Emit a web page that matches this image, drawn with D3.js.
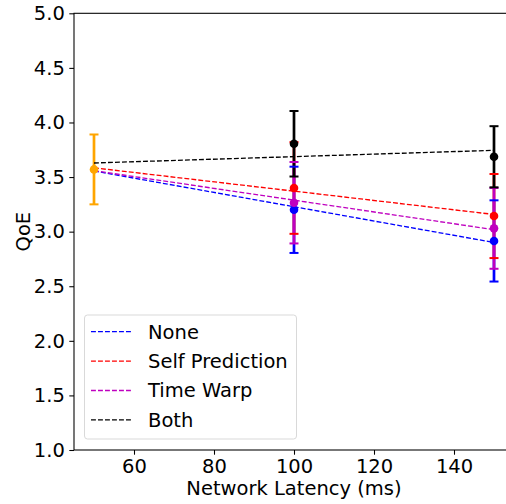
<!DOCTYPE html>
<html>
<head>
<meta charset="utf-8">
<script src="https://cdn.jsdelivr.net/npm/d3@7"></script>
<style>
  body { margin: 0; background: #fff; }
  svg text { font-family: "DejaVu Sans", sans-serif; fill: #000; }
</style>
</head>
<body>
<div id="chart"></div>
<script>
// latency values (ms)
var latencies = [100, 150];
var baseLatency = 50;
var baseMean = 3.57, baseErr = 0.32;

var seriesNames = ["None", "Self Prediction", "Time Warp", "Both"];
var seriesColors = ["#0000ff", "#ff0000", "#bf00bf", "#000000"];
var noneMean = [3.20, 2.915], noneErr = [0.395, 0.372];
var selfMean = [3.40, 3.143], selfErr = [0.42, 0.385];
var warpMean = [3.265, 3.03], warpErr = [0.373, 0.37];
var bothMean = [3.805, 3.686], bothErr = [0.30, 0.28];

var xTicks = [60, 80, 100, 120, 140];
var yTicks = [1.0, 1.5, 2.0, 2.5, 3.0, 3.5, 4.0, 4.5, 5.0];

var series = [
  {name: seriesNames[0], color: seriesColors[0], mean: noneMean, err: noneErr},
  {name: seriesNames[1], color: seriesColors[1], mean: selfMean, err: selfErr},
  {name: seriesNames[2], color: seriesColors[2], mean: warpMean, err: warpErr},
  {name: seriesNames[3], color: seriesColors[3], mean: bothMean, err: bothErr}
];

var W = 506, H = 504;
var margin = {top: 13.3, left: 74},
    width = 440,
    height = 436.7;

var svg = d3.select("#chart").append("svg")
    .attr("width", W)
    .attr("height", H);

var g = svg.append("g")
    .attr("transform", "translate(" + margin.left + "," + margin.top + ")");

var x = d3.scaleLinear().domain([45, 155]).range([0, width]);
var y = d3.scaleLinear().domain([1.0, 5.0]).range([height, 0]);

var fontSize = 19.5;

// least squares fit through baseline + series points
function fit(s) {
  var xs = [baseLatency].concat(latencies);
  var ys = [baseMean].concat(s.mean);
  var mx = d3.mean(xs), my = d3.mean(ys);
  var num = 0, den = 0;
  xs.forEach(function(v, i) { num += (v - mx) * (ys[i] - my); den += (v - mx) * (v - mx); });
  var b = num / den, a = my - b * mx;
  return [[xs[0], a + b * xs[0]], [xs[xs.length - 1], a + b * xs[xs.length - 1]]];
}

// error bar vertical lines first (drawn below everything)
series.forEach(function(s) {
  g.selectAll(null).data(latencies).enter().append("line")
    .attr("x1", function(d) { return x(d); })
    .attr("x2", function(d) { return x(d); })
    .attr("y1", function(d, i) { return y(s.mean[i] - s.err[i]); })
    .attr("y2", function(d, i) { return y(s.mean[i] + s.err[i]); })
    .attr("stroke", s.color)
    .attr("stroke-width", 2.7);
});
g.append("line")
  .attr("x1", x(baseLatency)).attr("x2", x(baseLatency))
  .attr("y1", y(baseMean - baseErr)).attr("y2", y(baseMean + baseErr))
  .attr("stroke", "#ffa500").attr("stroke-width", 2.7);

var line = d3.line().x(function(d) { return x(d[0]); }).y(function(d) { return y(d[1]); });

series.forEach(function(s) {
  // caps
  [-1, 1].forEach(function(sign) {
    g.selectAll(null).data(latencies).enter().append("line")
      .attr("x1", function(d) { return x(d) - 4.5; })
      .attr("x2", function(d) { return x(d) + 4.5; })
      .attr("y1", function(d, i) { return y(s.mean[i] + sign * s.err[i]); })
      .attr("y2", function(d, i) { return y(s.mean[i] + sign * s.err[i]); })
      .attr("stroke", s.color)
      .attr("stroke-width", 2);
  });
  // markers
  g.selectAll(null).data(latencies).enter().append("circle")
    .attr("cx", function(d) { return x(d); })
    .attr("cy", function(d, i) { return y(s.mean[i]); })
    .attr("r", 4.3)
    .attr("fill", s.color);
  // dashed trend line
  g.append("path")
    .attr("d", line(fit(s)))
    .attr("fill", "none")
    .attr("stroke", s.color)
    .attr("stroke-width", 1.33)
    .attr("stroke-dasharray", "4.9,2.1");
});

// baseline point
[-1, 1].forEach(function(sign) {
  g.append("line")
    .attr("x1", x(baseLatency) - 4.5).attr("x2", x(baseLatency) + 4.5)
    .attr("y1", y(baseMean + sign * baseErr)).attr("y2", y(baseMean + sign * baseErr))
    .attr("stroke", "#ffa500").attr("stroke-width", 2);
});
g.append("circle")
  .attr("cx", x(baseLatency)).attr("cy", y(baseMean))
  .attr("r", 4.3).attr("fill", "#ffa500");

// axes
var xAxis = g.append("g")
    .attr("transform", "translate(0," + height + ")")
    .call(d3.axisBottom(x).tickValues(xTicks).tickSize(4.7).tickPadding(4.5));
var yAxis = g.append("g")
    .call(d3.axisLeft(y).tickValues(yTicks).tickFormat(d3.format(".1f")).tickSize(4.7).tickPadding(4.5));
[xAxis, yAxis].forEach(function(a) {
  a.selectAll("text").style("font-size", fontSize + "px").style("font-family", "DejaVu Sans");
  a.selectAll("line").attr("stroke", "#000").attr("stroke-width", 1.07);
  a.select(".domain").remove();
});

// frame
g.append("rect")
  .attr("width", width).attr("height", height)
  .attr("fill", "none").attr("stroke", "#000").attr("stroke-width", 1.07);

// axis labels
svg.append("text")
  .attr("x", margin.left + x(100))
  .attr("y", 494.5)
  .attr("text-anchor", "middle")
  .style("font-size", fontSize + "px")
  .text("Network Latency (ms)");

svg.append("text")
  .attr("transform", "translate(30," + (margin.top + height / 2) + ") rotate(-90)")
  .attr("text-anchor", "middle")
  .style("font-size", fontSize + "px")
  .text("QoE");

// legend
var legend = svg.append("g").attr("transform", "translate(84.5,315)");
legend.append("rect")
  .attr("width", 212).attr("height", 124)
  .attr("rx", 3).attr("ry", 3)
  .attr("fill", "#fff").attr("fill-opacity", 0.8)
  .attr("stroke", "#d9d9d9").attr("stroke-width", 1);

series.forEach(function(s, i) {
  var ly = 16.7 + i * 29.4;
  legend.append("line")
    .attr("x1", 6.5).attr("x2", 47)
    .attr("y1", ly).attr("y2", ly)
    .attr("stroke", s.color)
    .attr("stroke-width", 1.33)
    .attr("stroke-dasharray", "4.9,2.1");
  legend.append("text")
    .attr("x", 63.5).attr("y", ly)
    .attr("dy", "0.35em")
    .style("font-size", fontSize + "px")
    .text(s.name);
});
</script>
</body>
</html>
